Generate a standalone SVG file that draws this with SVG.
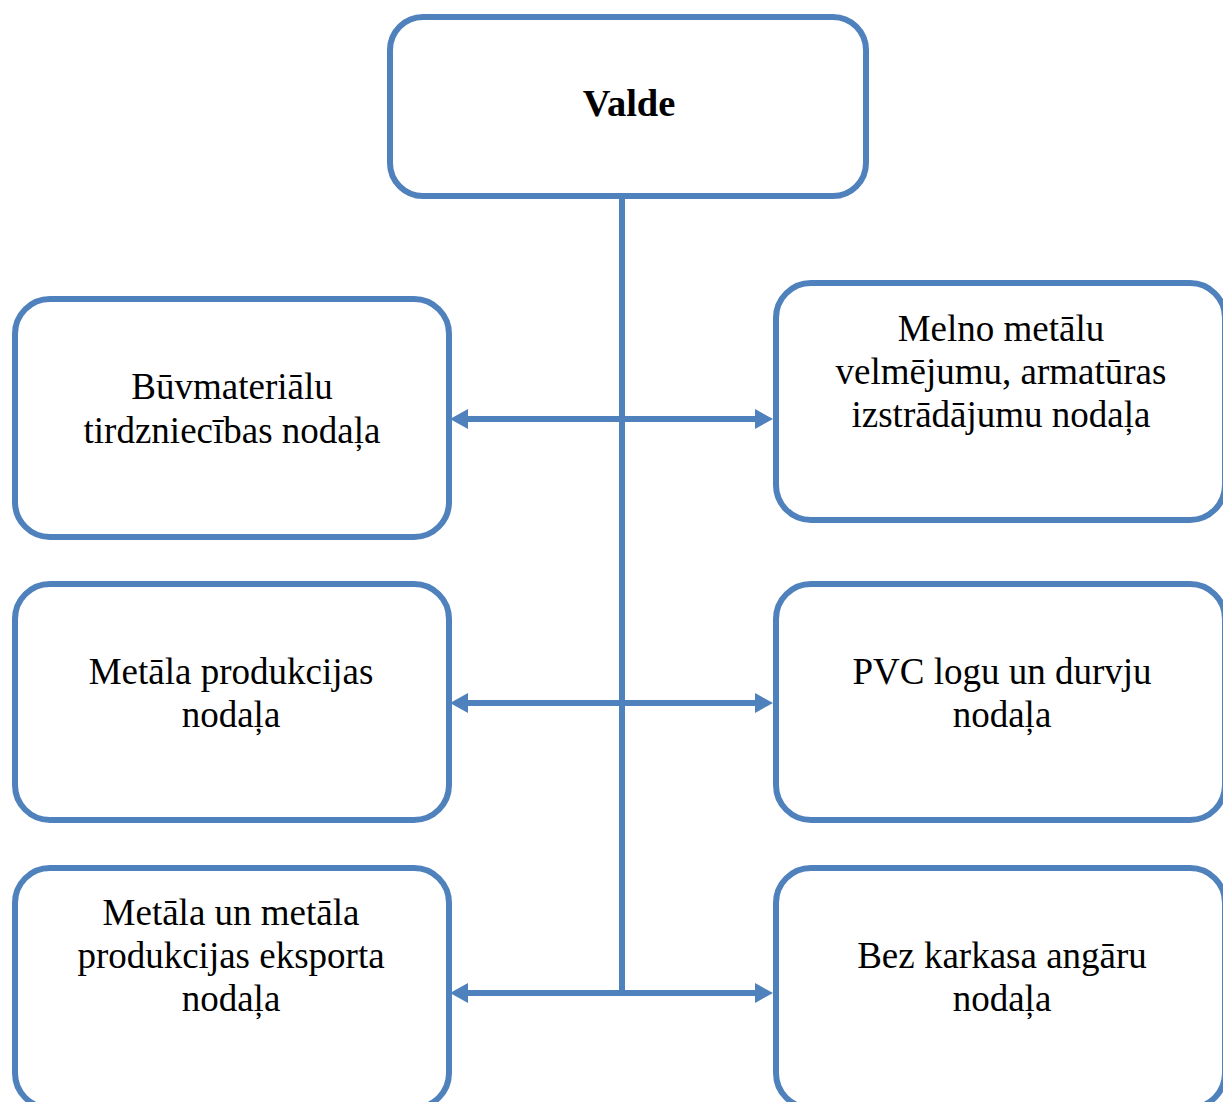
<svg xmlns="http://www.w3.org/2000/svg" width="1223" height="1102" viewBox="0 0 1223 1102">
  <style>
    .box { fill: #ffffff; stroke: #4F81BD; stroke-width: 6; }
    .conn { fill: none; stroke: #4F81BD; stroke-width: 6; }
    .lbl { font-family: "Liberation Serif", "Times New Roman", serif; font-size: 37px; fill: #000000; text-anchor: middle; }
    .title { font-family: "Liberation Serif", "Times New Roman", serif; font-size: 38.5px; font-weight: bold; fill: #000000; text-anchor: middle; }
  </style>
  <defs>
    <marker id="arrow" viewBox="0 0 18 20" refX="8" refY="10" markerWidth="18" markerHeight="20" markerUnits="userSpaceOnUse" orient="auto-start-reverse">
      <path d="M0,0 L18,10 L0,20 z" fill="#4F81BD"/>
    </marker>
  </defs>
  <rect width="1223" height="1102" fill="#ffffff"/>

  <g id="connectors">
    <line class="conn" x1="622" y1="196" x2="622" y2="996"/>
    <line class="conn" x1="460" y1="419" x2="763" y2="419" marker-start="url(#arrow)" marker-end="url(#arrow)"/>
    <line class="conn" x1="460" y1="703" x2="763" y2="703" marker-start="url(#arrow)" marker-end="url(#arrow)"/>
    <line class="conn" x1="460" y1="993" x2="763" y2="993" marker-start="url(#arrow)" marker-end="url(#arrow)"/>
  </g>

  <g id="valde">
    <rect class="box" x="390" y="17" width="476" height="179" rx="33" ry="33"/>
    <text class="title" x="629" y="116">Valde</text>
  </g>

  <g id="buvmaterialu">
    <rect class="box" x="15" y="299" width="434" height="238" rx="35" ry="35"/>
    <text class="lbl" x="232" y="399">Būvmateriālu</text>
    <text class="lbl" x="232" y="443">tirdzniecības nodaļa</text>
  </g>

  <g id="melno-metalu">
    <rect class="box" x="776" y="283" width="449" height="237" rx="35" ry="35"/>
    <text class="lbl" x="1001" y="341">Melno metālu</text>
    <text class="lbl" x="1001" y="384">velmējumu, armatūras</text>
    <text class="lbl" x="1001" y="427">izstrādājumu nodaļa</text>
  </g>

  <g id="metala-produkcijas">
    <rect class="box" x="15" y="584" width="434" height="236" rx="35" ry="35"/>
    <text class="lbl" x="231" y="684">Metāla produkcijas</text>
    <text class="lbl" x="231" y="727">nodaļa</text>
  </g>

  <g id="pvc">
    <rect class="box" x="776" y="584" width="449" height="236" rx="35" ry="35"/>
    <text class="lbl" x="1002" y="684">PVC logu un durvju</text>
    <text class="lbl" x="1002" y="727">nodaļa</text>
  </g>

  <g id="eksporta">
    <rect class="box" x="15" y="868" width="434" height="240" rx="35" ry="35"/>
    <text class="lbl" x="231" y="925">Metāla un metāla</text>
    <text class="lbl" x="231" y="968">produkcijas eksporta</text>
    <text class="lbl" x="231" y="1011">nodaļa</text>
  </g>

  <g id="angaru">
    <rect class="box" x="776" y="868" width="449" height="240" rx="35" ry="35"/>
    <text class="lbl" x="1002" y="968">Bez karkasa angāru</text>
    <text class="lbl" x="1002" y="1011">nodaļa</text>
  </g>
</svg>
